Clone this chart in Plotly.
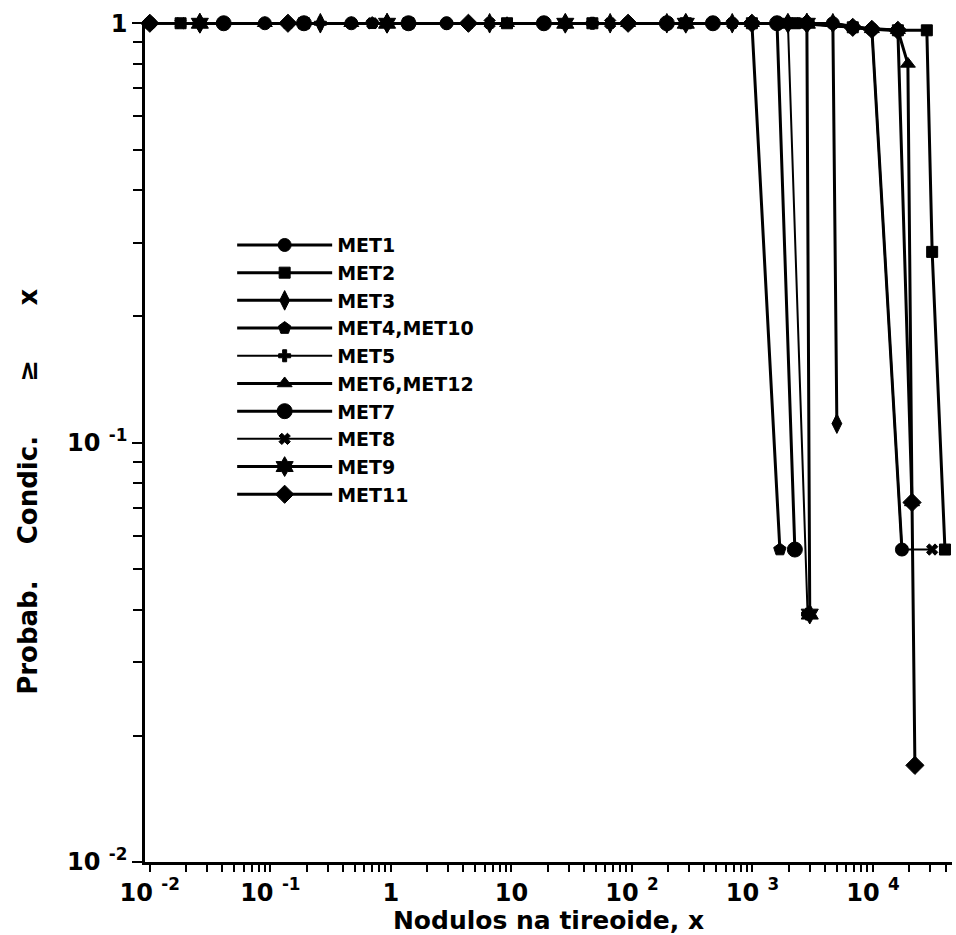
import plotly.graph_objects as go

# ---- data ----
met1_x = [0.01, 0.09, 0.47, 2.9, 18.6, 93, 470, 1600, 4650, 6800, 9800, 17400]
met1_y = [1, 1, 1, 1, 1, 1, 1, 1, 1, 0.978, 0.967, 0.0556]

met2_x = [0.018, 0.19, 1.4, 9.2, 47, 280, 990, 2250, 6800, 16100, 28000, 31000, 39600]
met2_y = [1, 1, 1, 1, 1, 1, 1, 1, 0.978, 0.962, 0.962, 0.285, 0.0556]

met3_x = [0.026, 0.26, 0.93, 6.6, 66, 195, 680, 2830, 4650, 5020]
met3_y = [1, 1, 1, 1, 1, 1, 1, 1, 1, 0.111]

met4_x = [0.041, 0.14, 0.7, 4.4, 28, 280, 680, 990, 1690]
met4_y = [1, 1, 1, 1, 1, 1, 1, 1, 0.0556]

met5_x = [0.01, 0.26, 2.9, 47, 470, 1970, 2870]
met5_y = [1, 1, 1, 1, 1, 1, 0.039]

met6_x = [0.09, 0.47, 9.2, 93, 990, 4650, 9800, 16100, 19500, 21100]
met6_y = [1, 1, 1, 1, 1, 1, 0.967, 0.962, 0.80, 0.072]

met7_x = [0.041, 0.19, 1.4, 18.6, 195, 470, 1600, 2250]
met7_y = [1, 1, 1, 1, 1, 1, 1, 0.0556]

met8_x = [0.018, 0.7, 6.6, 66, 680, 2250, 6800, 9800, 17400, 31000]
met8_y = [1, 1, 1, 1, 1, 1, 0.978, 0.967, 0.0556, 0.0556]

met9_x = [0.026, 0.93, 28, 280, 1970, 2830, 2990]
met9_y = [1, 1, 1, 1, 1, 1, 0.039]

met11_x = [0.01, 0.14, 4.4, 93, 990, 2830, 6800, 9800, 16100, 21100, 22300]
met11_y = [1, 1, 1, 1, 1, 1, 0.978, 0.967, 0.962, 0.072, 0.017]

series_names = ["MET1", "MET2", "MET3", "MET4,MET10", "MET5",
                "MET6,MET12", "MET7", "MET8", "MET9", "MET11"]
series_x = [met1_x, met2_x, met3_x, met4_x, met5_x, met6_x, met7_x, met8_x, met9_x, met11_x]
series_y = [met1_y, met2_y, met3_y, met4_y, met5_y, met6_y, met7_y, met8_y, met9_y, met11_y]

x_tickvals = [0.01, 0.1, 1, 10, 100, 1000, 10000]
x_ticktext = ["10 <sup>-2</sup>", "10 <sup>-1</sup>", "1", "10", "10 <sup>2</sup>",
              "10 <sup>3</sup>", "10 <sup>4</sup>"]
y_tickvals = [0.01, 0.1, 1]
y_ticktext = ["10 <sup>-2</sup>", "10 <sup>-1</sup>", "1"]

# ---- styles ----
styles = [
    dict(symbol="circle", size=13, lw=3),
    dict(symbol="square", size=11, lw=3),
    dict(symbol="diamond-tall", size=14, lw=3),
    dict(symbol="pentagon", size=13, lw=3),
    dict(symbol="cross", size=10, lw=2),
    dict(symbol="triangle-up", size=13, lw=3),
    dict(symbol="circle", size=15, lw=3),
    dict(symbol="x", size=10, lw=2),
    dict(symbol="hexagram", size=15, lw=3),
    dict(symbol="diamond", size=14, lw=3),
]

FONT = "DejaVu Sans"
NB = "\u00a0"
ZW = "\u200b"

fig = go.Figure()
for name, xs, ys, st in zip(series_names, series_x, series_y, styles):
    fig.add_trace(go.Scatter(
        x=xs, y=ys, name=name, mode="lines+markers",
        line=dict(color="black", width=st["lw"]),
        marker=dict(symbol=st["symbol"], size=st["size"], color="black",
                    line=dict(color="black", width=1)),
        cliponaxis=False,
    ))

tickfont = dict(family=FONT, size=24, color="black", weight="bold")
ytitle = f"Probab.{NB*4}Condic.{NB*6}≥{NB*6}x" + NB * 11 + ZW

fig.update_layout(
    width=956, height=935,
    margin=dict(l=145, r=4, t=22, b=73),
    paper_bgcolor="white", plot_bgcolor="white",
    font=dict(family=FONT, size=22, color="black"),
    showlegend=True,
    legend=dict(
        x=0.108, y=0.757, xanchor="left", yanchor="top",
        bgcolor="rgba(0,0,0,0)",
        font=dict(family=FONT, size=19, color="black", weight="bold"),
        itemwidth=95, tracegroupgap=0,
    ),
    xaxis=dict(
        type="log", range=[-2.04, 4.656],
        tickmode="array", tickvals=x_tickvals, ticktext=x_ticktext,
        ticks="outside", ticklen=7, tickwidth=2, tickcolor="black",
        showline=True, linecolor="black", linewidth=2.5,
        showgrid=False, zeroline=False,
        minor=dict(ticks="outside", ticklen=7, tickwidth=2, tickcolor="black",
                   dtick="D1", showgrid=False),
        tickfont=tickfont,
        title=dict(text="Nodulos na tireoide, x", standoff=0,
                   font=dict(family=FONT, size=25, color="black", weight="bold")),
    ),
    yaxis=dict(
        type="log", range=[-2, 0.003],
        tickmode="array", tickvals=y_tickvals, ticktext=y_ticktext,
        ticks="outside", ticklen=10, tickwidth=2, tickcolor="black",
        showline=True, linecolor="black", linewidth=2.5,
        showgrid=False, zeroline=False,
        minor=dict(ticks="outside", ticklen=9, tickwidth=2, tickcolor="black",
                   dtick="D1", showgrid=False),
        tickfont=tickfont,
        title=dict(text=ytitle, standoff=22,
                   font=dict(family=FONT, size=26, color="black", weight="bold")),
    ),
)

fig.write_html("out.html")
